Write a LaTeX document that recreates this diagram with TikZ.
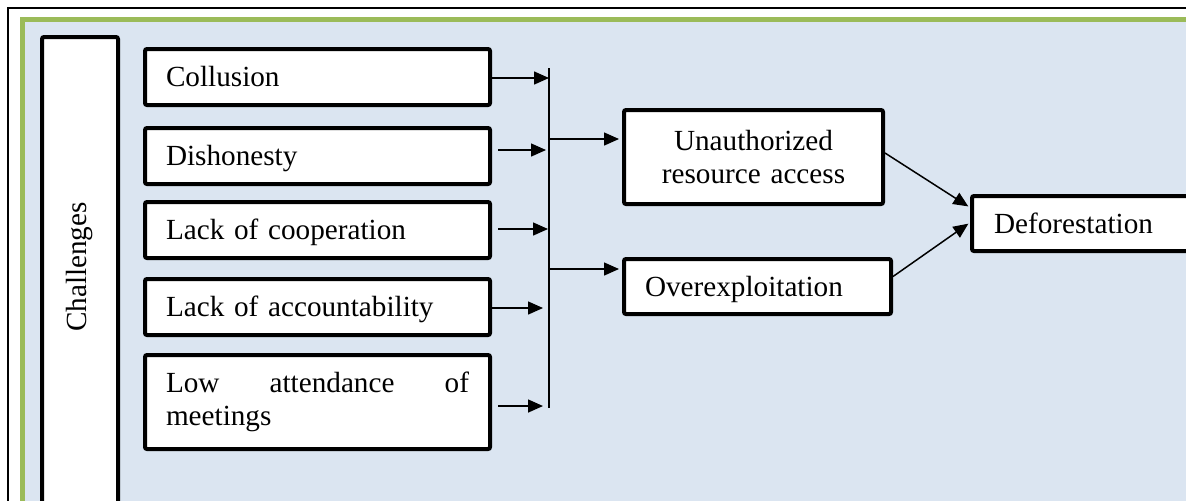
\documentclass[tikz,border=0pt]{standalone}
\usepackage{fontspec}
\setmainfont{Liberation Serif}
\usetikzlibrary{arrows.meta}
\definecolor{framegreen}{RGB}{155,187,89}
\definecolor{panelblue}{RGB}{219,229,241}
\begin{document}
\begin{tikzpicture}[x=0.5pt,y=-0.5pt,
  txt/.style={font=\fontsize{14.6}{16.5}\selectfont},
  box/.style={txt,draw,line width=2pt,fill=white,rounded corners=1pt},
  onel/.style={text height=9.7pt,text depth=0pt},
  leftbox/.style={box,minimum width=172.5pt,minimum height=28pt,text width=151.5pt,
    inner xsep=10.5pt,inner ysep=0pt,align=left},
  arr/.style={line width=0.75pt,-{Triangle[length=7.5pt,width=6.5pt]}},
  busline/.style={line width=0.75pt}]
\useasboundingbox (0,0) rectangle (1186,500);
\clip (0,0) rectangle (1186,500);
% frames
\draw[line width=1pt,fill=white] (7.5,7.5) rectangle (1300,600);
\draw[framegreen,line width=2.5pt,fill=panelblue] (22.5,19.5) rectangle (1300,600);
% challenges column
\node[box,minimum width=38pt,minimum height=250pt,inner sep=0pt] (chal) at (80,287) {};
\node[txt,rotate=90] (chaltxt) at (80,267) {Challenges};
% left boxes
\node[leftbox,onel] (col) at (317.5,77) {Collusion};
\node[leftbox,onel] (dis) at (317.5,156) {Dishonesty};
\node[leftbox,onel] (coop) at (317.5,230) {Lack of cooperation};
\node[leftbox,onel] (acc) at (317.5,307) {Lack of accountability};
\node[leftbox,minimum height=47pt] (low) at (317.5,402)
  {\hbox to 151.5pt{Low\hfill attendance\hfill of}\\meetings};
% middle boxes
\node[box,minimum width=129.5pt,minimum height=47pt,text width=120pt,align=center,inner sep=0pt]
  (unauth) at (753.5,157) {Unauthorized\\resource access};
\node[box,onel,minimum width=133.5pt,minimum height=27.5pt,text width=112.5pt,
  inner xsep=10.5pt,inner ysep=0pt,align=left] (over) at (757.5,286.5) {Overexploitation};
% right box
\node[box,onel,anchor=west,minimum width=150pt,minimum height=27.5pt,text width=128pt,
  inner xsep=11pt,inner ysep=0pt,align=left] (defor) at (970,223.5) {Deforestation};
% bus
\coordinate (bustop) at (549,68);
\coordinate (busbot) at (549,408);
\draw[busline] (bustop) -- (busbot);
\coordinate (jua) at (549,139);
\coordinate (jov) at (549,269);
% arrows into bus
\draw[arr] ([yshift=-0.5pt]col.east) -- ([yshift=-0.5pt]col.east -| bustop);
\draw[arr,shorten <=3pt,shorten >=1.5pt] ([yshift=3pt]dis.east) -- ([yshift=3pt]dis.east -| bustop);
\draw[arr,shorten <=3pt,shorten >=0.5pt] ([yshift=0.5pt]coop.east) -- ([yshift=0.5pt]coop.east -| bustop);
\draw[arr,shorten >=3pt] ([yshift=-0.5pt]acc.east) -- ([yshift=-0.5pt]acc.east -| bustop);
\draw[arr,shorten <=3pt,shorten >=3pt] ([yshift=-2pt]low.east) -- ([yshift=-2pt]low.east -| bustop);
% arrows out of bus
\draw[arr,shorten >=1.5pt] (jua) -- (jua -| unauth.west);
\draw[arr,shorten >=1.5pt] (jov) -- (jov -| over.west);
% to deforestation
\draw[arr,shorten >=1pt] ([yshift=2pt]unauth.east) -- ([yshift=8pt]defor.west);
\draw[arr,shorten >=1pt] ([yshift=5pt]over.east) -- ([yshift=0.5pt]defor.west);
\end{tikzpicture}
\end{document}
